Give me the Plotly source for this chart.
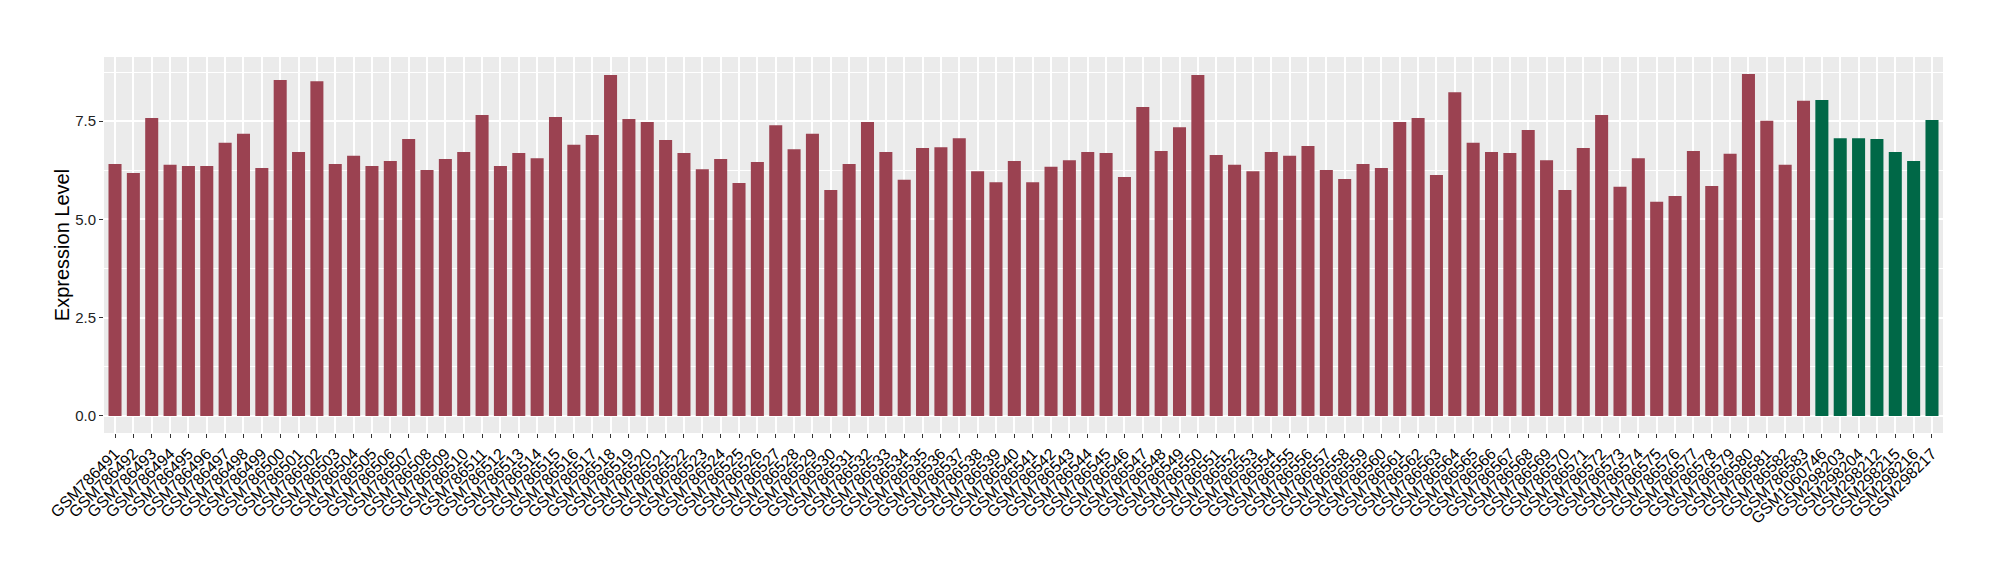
import plotly.graph_objects as go

samples = [f"GSM{n}" for n in range(786491, 786584)] + [
    "GSM1060746", "GSM298203", "GSM298204", "GSM298212",
    "GSM298215", "GSM298216", "GSM298217",
]

expression = [
    6.41, 6.18, 7.58, 6.39, 6.36, 6.36, 6.95, 7.18, 6.31, 8.55,
    6.72, 8.52, 6.41, 6.62, 6.36, 6.49, 7.05, 6.26, 6.54, 6.72,
    7.66, 6.36, 6.69, 6.56, 7.61, 6.90, 7.15, 8.68, 7.56, 7.48,
    7.02, 6.69, 6.28, 6.54, 5.93, 6.46, 7.40, 6.79, 7.18, 5.75,
    6.41, 7.48, 6.72, 6.01, 6.82, 6.84, 7.07, 6.23, 5.95, 6.49,
    5.95, 6.34, 6.51, 6.72, 6.69, 6.08, 7.86, 6.74, 7.35, 8.68,
    6.64, 6.39, 6.23, 6.72, 6.62, 6.87, 6.26, 6.03, 6.41, 6.31,
    7.48, 7.58, 6.13, 8.24, 6.95, 6.72, 6.69, 7.28, 6.51, 5.75,
    6.82, 7.66, 5.83, 6.56, 5.45, 5.60, 6.74, 5.85, 6.67, 8.70,
    7.51, 6.39, 8.02,
    8.04, 7.07, 7.07, 7.05, 6.72, 6.49, 7.53,
]

groups = ["tumor"] * 93 + ["normal"] * 7
group_colors = {"tumor": "#9B4251", "normal": "#006847"}

y_ticks = [0.0, 2.5, 5.0, 7.5]
y_tick_labels = ["0.0", "2.5", "5.0", "7.5"]

fig = go.Figure(
    go.Bar(
        x=samples,
        y=expression,
        marker_color=[group_colors[g] for g in groups],
        marker_line_width=0,
        showlegend=False,
    )
)

# page body adds 8px around the figure, so the figure is a bit smaller
fig.update_layout(
    width=1984,
    height=564,
    paper_bgcolor="white",
    plot_bgcolor="#EBEBEB",
    bargap=0.29,
    font=dict(family="Liberation Sans, Arial, sans-serif", color="black"),
    margin=dict(l=96, r=49, t=49, b=139, autoexpand=False),
)

fig.update_xaxes(
    type="category",
    range=[-0.6, len(samples) - 0.4],
    tickmode="array",
    tickvals=samples,
    ticktext=samples,
    tickangle=-45,
    tickfont=dict(size=16, color="black"),
    ticks="outside",
    ticklen=4,
    tickwidth=1,
    tickcolor="#333333",
    showgrid=True,
    gridcolor="white",
    gridwidth=1.6,
    zeroline=False,
    showline=False,
    automargin=False,
)

fig.update_yaxes(
    range=[-0.435, 9.135],
    tickvals=y_ticks,
    ticktext=y_tick_labels,
    tickfont=dict(size=15, color="#222222"),
    ticks="outside",
    ticklen=4,
    tickwidth=1,
    tickcolor="#333333",
    showgrid=True,
    gridcolor="white",
    gridwidth=1.6,
    minor=dict(dtick=1.25, tick0=0, showgrid=True, gridcolor="white", gridwidth=0.8, ticks=""),
    zeroline=False,
    showline=False,
    title=dict(text="Expression Level", font=dict(size=20, color="black"), standoff=0),
    automargin=False,
)

fig.write_html("out.html")
